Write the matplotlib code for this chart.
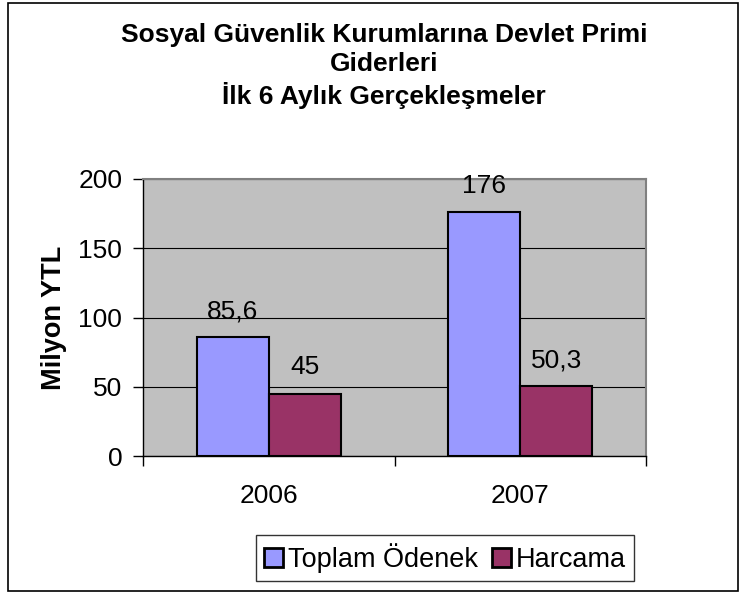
import numpy as np
import matplotlib
matplotlib.use("Agg")
import matplotlib.pyplot as plt
from matplotlib.patches import Rectangle

plt.rcParams['font.family'] = ['Liberation Sans', 'DejaVu Sans']

# data
years = ['2006', '2007']
toplam_odenek = [85.6, 176]
harcama = [45, 50.3]
labels_odenek = ['85,6', '176']
labels_harcama = ['45', '50,3']
series_names = ['Toplam Ödenek', 'Harcama']
y_ticks = [0, 50, 100, 150, 200]

fig = plt.figure(figsize=(7.43, 5.94), dpi=100)
ax = fig.add_axes([143/743, 1 - 456/594, (646 - 143)/743, (456 - 179)/594])
ax.set_facecolor('#C0C0C0')

x = np.arange(len(years))
w = 0.286
b1 = ax.bar(x - w/2, toplam_odenek, w, color='#9999FF', edgecolor='black', linewidth=1.5, zorder=3, label=series_names[0])
b2 = ax.bar(x + w/2, harcama, w, color='#993366', edgecolor='black', linewidth=1.5, zorder=3, label=series_names[1])

for rect, txt in zip(b1, labels_odenek):
    ax.text(rect.get_x() + rect.get_width()/2, rect.get_height() + 19, txt,
            ha='center', va='center', fontsize=19)
for rect, txt in zip(b2, labels_harcama):
    ax.text(rect.get_x() + rect.get_width()/2, rect.get_height() + 19, txt,
            ha='center', va='center', fontsize=19)

ax.set_xlim(-0.5, len(years) - 0.5)
ax.set_ylim(0, 200)
ax.set_yticks(y_ticks)
ax.set_yticklabels([str(v) for v in y_ticks], fontsize=19)
ax.yaxis.grid(True, color='black', linewidth=0.8, zorder=1)
ax.set_axisbelow(True)

# category boundaries as ticks, names in the middle
ax.set_xticks(np.arange(len(years) + 1) - 0.5)
ax.set_xticklabels([])
ax.set_xticks(x, minor=True)
ax.set_xticklabels(years, minor=True, fontsize=19)
ax.tick_params(axis='x', which='major', length=7, width=1, direction='out')
ax.tick_params(axis='x', which='minor', length=0, pad=20)
ax.tick_params(axis='y', length=7, width=1, pad=8)

for s in ['left', 'bottom']:
    ax.spines[s].set_color('black')
    ax.spines[s].set_linewidth(1)
for s in ['top', 'right']:
    ax.spines[s].set_color('#808080')
    ax.spines[s].set_linewidth(1.5)

ax.set_ylabel('Milyon YTL', fontsize=19.5, fontweight='bold', labelpad=8)

fig.text(384/743, 1 - 66/594,
         'Sosyal Güvenlik Kurumlarına Devlet Primi\nGiderleri\nİlk 6 Aylık Gerçekleşmeler',
         ha='center', va='center', fontsize=19, fontweight='bold', linespacing=1.28)

leg = fig.legend(handles=[b1, b2], loc='center', bbox_to_anchor=(445/743, 1 - 558/594),
                 ncol=2, fontsize=19.5, frameon=True, fancybox=False, shadow=False,
                 handlelength=0.7, handleheight=0.7, handletextpad=0.2,
                 columnspacing=0.5, borderpad=0.3, borderaxespad=0)
leg.get_frame().set_edgecolor('black')
leg.get_frame().set_linewidth(1)
for h in leg.legend_handles:
    h.set_linewidth(2)

fig.patches.append(Rectangle((8/743, 3/594), (738 - 8)/743, (591 - 3)/594,
                             transform=fig.transFigure, fill=False,
                             edgecolor='black', linewidth=1.2))

fig.savefig('out.png', dpi=100)
